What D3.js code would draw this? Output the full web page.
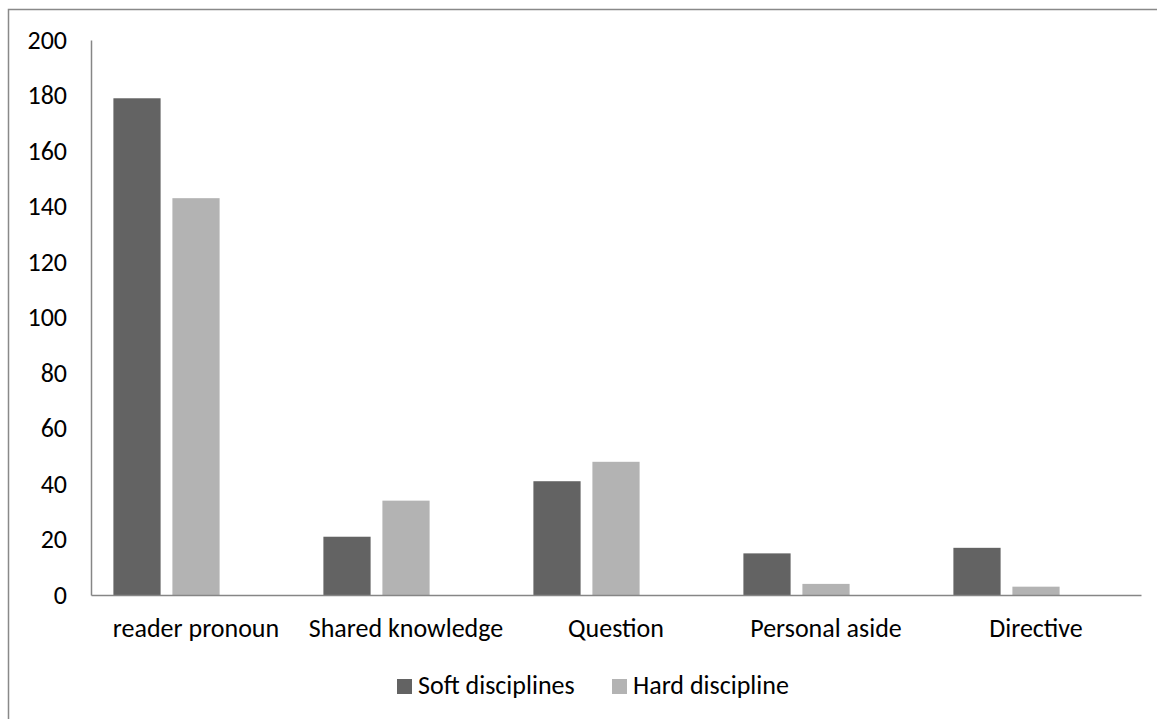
<!DOCTYPE html>
<html><head><meta charset="utf-8">
<script src="https://cdn.jsdelivr.net/npm/d3@7"></script>
<style>body{margin:0;background:#fff;} text{font-family:Carlito,Lato,"Open Sans",sans-serif;fill:#000;}</style>
</head><body>
<svg id="c" width="1157" height="719"></svg>
<script>
const categories = ["reader pronoun","Shared knowledge","Question","Personal aside","Directive"];
const seriesNames = ["Soft disciplines","Hard discipline"];
const softValues = [179,21,41,15,17];
const hardValues = [143,34,48,4,3];
const yTicks = [0,20,40,60,80,100,120,140,160,180,200];
const colors = ["#636363","#b3b3b3"];

(function(){
const svg = d3.select("#c");
svg.append("rect").attr("x",8.5).attr("y",9.5).attr("width",1160).attr("height",720)
  .attr("fill","none").attr("stroke","#898989").attr("stroke-width",1.5);

const pLeft=91, pRight=1141, pTop=40, pBottom=595;
const fs = "26px";
const y = d3.scaleLinear().domain([0,200]).range([pBottom,pTop]);
const x0 = d3.scaleBand().domain(categories).range([pLeft,pRight]).paddingInner(1-177/210).paddingOuter((1-177/210)/2);
const x1 = d3.scaleBand().domain(["s0","s1","s2"]).range([0,x0.bandwidth()]).paddingInner(0.2).paddingOuter(0.1);

const series = [softValues, hardValues];
series.forEach((vals,si)=>{
  svg.append("g").selectAll("rect").data(vals).join("rect")
    .attr("x",(d,i)=>x0(categories[i])+x1("s"+si))
    .attr("width",x1.bandwidth())
    .attr("y",d=>y(d)).attr("height",d=>pBottom-y(d))
    .attr("fill",colors[si]);
});

const ya = svg.append("g").attr("transform",`translate(${pLeft},0)`)
  .call(d3.axisLeft(y).tickValues(yTicks).tickSize(0).tickPadding(24));
ya.select(".domain").attr("stroke","#868686").attr("stroke-width",1.5);
ya.selectAll("text").style("font-size",fs);

const xa = svg.append("g").attr("transform",`translate(0,${pBottom})`)
  .call(d3.axisBottom(x0).tickSize(0).tickPadding(24));
xa.select(".domain").attr("stroke","#868686").attr("stroke-width",1.5);
xa.selectAll("text").style("font-size",fs);

const legendX = [397, 612];
seriesNames.forEach((n,i)=>{
  svg.append("rect").attr("x",legendX[i]).attr("y",679).attr("width",15).attr("height",15).attr("fill",colors[i]);
  svg.append("text").attr("x",legendX[i]+21).attr("y",694).style("font-size",fs).text(n);
});
})();
</script>
</body></html>
